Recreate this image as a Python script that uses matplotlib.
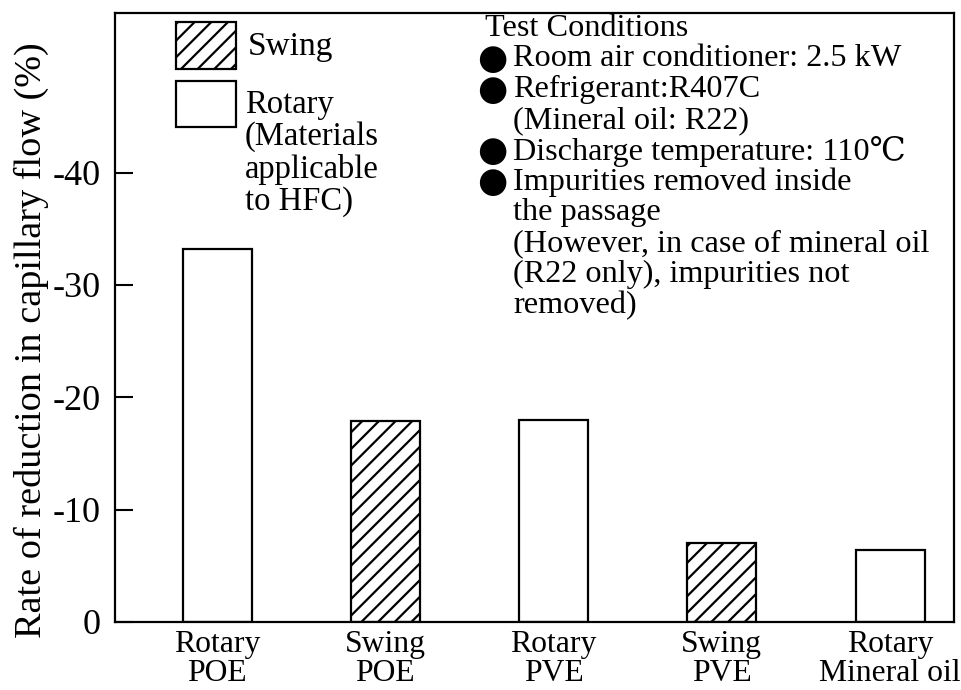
import matplotlib
matplotlib.use("Agg")
import matplotlib.pyplot as plt
from matplotlib.patches import Rectangle

plt.rcParams['font.family'] = ['Liberation Serif', 'DejaVu Serif', 'DejaVu Sans']
plt.rcParams['hatch.linewidth'] = 1.6

# data
categorias = ["Rotary\nPOE", "Swing\nPOE", "Rotary\nPVE", "Swing\nPVE", "Rotary\nMineral oil"]
tipo = ["Rotary", "Swing", "Rotary", "Swing", "Rotary"]
reduccion = [-33.2, -17.9, -18.0, -7.0, -6.4]
yticks = [0, -10, -20, -30, -40]

condiciones = [
    ("title", "Test Conditions"),
    ("bullet", "Room air conditioner: 2.5 kW"),
    ("bullet", "Refrigerant:R407C"),
    ("cont", "(Mineral oil: R22)"),
    ("bullet", "Discharge temperature: 110℃"),
    ("bullet", "Impurities removed inside"),
    ("cont", "the passage"),
    ("cont", "(However, in case of mineral oil"),
    ("cont", "(R22 only), impurities not"),
    ("cont", "removed)"),
]

W, H = 961, 690
fig = plt.figure(figsize=(W / 100, H / 100), dpi=100)
ax = fig.add_axes([115 / W, 1 - 622 / H, 839 / W, 609 / H])

x = list(range(len(categorias)))
for xi, v, t in zip(x, reduccion, tipo):
    ax.bar(xi, v, width=0.41, color="white", edgecolor="black", linewidth=1.6,
           hatch="//" if t == "Swing" else None)

ax.set_xlim(-0.607, 4.38)
ax.set_ylim(0, -54.2)
ax.set_yticks(yticks)
ax.set_yticklabels([str(t) for t in yticks])
ax.set_xticks(x)
ax.set_xticklabels(categorias, linespacing=1.0)
ax.tick_params(axis="y", direction="in", length=13, width=1.5, pad=10, labelsize=26)
ax.tick_params(axis="x", length=0, pad=6, labelsize=22.8)
for s in ax.spines.values():
    s.set_linewidth(1.6)
ax.set_ylabel("Rate of reduction in capillary flow (%)", fontsize=27.5)
ax.yaxis.set_label_coords(-0.0787, 0.463)

# legend drawn by hand (label of Rotary hangs below the box top)
ax.add_patch(Rectangle((0.0727, 0.908), 0.0715, 0.0772, transform=ax.transAxes,
                       facecolor="white", edgecolor="black", linewidth=1.6, hatch="//"))
ax.add_patch(Rectangle((0.0727, 0.8128), 0.0715, 0.0755, transform=ax.transAxes,
                       facecolor="white", edgecolor="black", linewidth=1.6))
fig.text(248 / W, 1 - 47 / H, "Swing", fontsize=24, va="center", ha="left")
fig.text(245 / W, 1 - 89 / H, "Rotary\n(Materials\napplicable\nto HFC)", fontsize=23.5,
         va="top", ha="left", linespacing=1.07)

y0, paso = 28, 30.8
for i, (kind, linea) in enumerate(condiciones):
    yf = 1 - (y0 + paso * i) / H
    if kind == "bullet":
        fig.text(492 / W, yf, "●", fontsize=25, family="DejaVu Sans",
                 va="center", ha="center")
    xpix = {"title": 485, "bullet": 513, "cont": 513}[kind]
    fig.text(xpix / W, yf, linea, fontsize=23.2, va="center", ha="left")

fig.savefig("out.png", dpi=100)
